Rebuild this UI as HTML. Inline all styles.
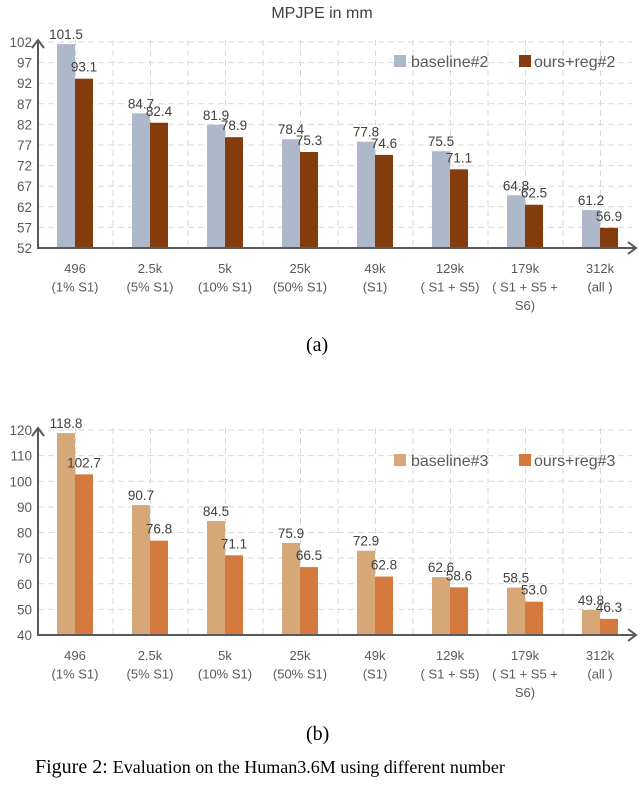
<!DOCTYPE html>
<html><head><meta charset="utf-8"><style>
body{margin:0;background:#fff;width:640px;height:769px;overflow:hidden;position:relative}
svg text{font-family:"Liberation Sans",sans-serif}
.cap{position:absolute;font-family:"Liberation Serif",serif;color:#000}
</style></head><body>
<svg id="c1" width="640" height="330" style="position:absolute;left:0;top:0"></svg>
<svg id="c2" width="640" height="400" style="position:absolute;left:0;top:400"></svg>
<div class="cap" style="left:306px;top:334px;font-size:20px">(a)</div>
<div class="cap" style="left:306px;top:723px;font-size:20px">(b)</div>
<div class="cap" style="left:35px;top:756px;font-size:20px;white-space:nowrap">Figure 2: <span style="font-size:18px">Evaluation on the Human3.6M using different number</span></div>
<script>
const categories=["496","2.5k","5k","25k","49k","129k","179k","312k"];
const subLabels=[["(1% S1)"],["(5% S1)"],["(10% S1)"],["(50% S1)"],["(S1)"],["( S1 + S5)"],["( S1 + S5 +","S6)"],["(all )"]];
const baselineA=[101.5,84.7,81.9,78.4,77.8,75.5,64.8,61.2];
const oursA=[93.1,82.4,78.9,75.3,74.6,71.1,62.5,56.9];
const ticksA=[52,57,62,67,72,77,82,87,92,97,102];
const baselineB=[118.8,90.7,84.5,75.9,72.9,62.6,58.5,49.8];
const oursB=[102.7,76.8,71.1,66.5,62.8,58.6,53.0,46.3];
const ticksB=[40,50,60,70,80,90,100,110,120];
const NS="http://www.w3.org/2000/svg";
function mk(p,t,a){const e=document.createElementNS(NS,t);for(const k in a)e.setAttribute(k,a[k]);p.appendChild(e);return e;}
function draw(svg,cfg){
  const x0=38,x1=632,yTop=cfg.yTop,yBot=cfg.yBot;
  const y=v=>yBot-(v-cfg.min)/(cfg.max-cfg.min)*(yBot-yTop);
  const gx=i=>57+i*75;
  // grid
  for(let gxv=x0+37.5;gxv<=632;gxv+=37.5){const l=mk(svg,'line',{x1:gxv,x2:gxv,y1:yTop-2,y2:yBot,stroke:'#d9d9d9','stroke-dasharray':'6,4'});
  }
  cfg.ticks.forEach(t=>{const yy=y(t);
    if(t!==cfg.min){const l=mk(svg,'line',{x1:x0,x2:632,y1:yy,y2:yy,stroke:'#d9d9d9','stroke-dasharray':'6,4'});
    }
    const tx=mk(svg,'text',{x:x0-6,y:yy+5,'text-anchor':'end','font-size':13.5,fill:'#595959'});tx.textContent=t;
    });
  categories.forEach((c,i)=>{
    const bx=gx(i),hb=y(cfg.base[i]),ho=y(cfg.ours[i]);
    const b=mk(svg,'rect',{x:bx,y:hb,width:18,height:yBot-hb,fill:cfg.c1});
    
    const o=mk(svg,'rect',{x:bx+18,y:ho,width:18,height:yBot-ho,fill:cfg.c2});
    
    const lb=mk(svg,'text',{x:bx+9,y:hb-5,'text-anchor':'middle','font-size':13.5,fill:'#404040'});lb.textContent=cfg.base[i].toFixed(1);
    
    const lo=mk(svg,'text',{x:bx+27,y:ho-7,'text-anchor':'middle','font-size':13.5,fill:'#404040'});lo.textContent=cfg.ours[i].toFixed(1);
    
    const lines=[c].concat(subLabels[i]);
    lines.forEach((s,k)=>{const t=mk(svg,'text',{x:bx+18,y:yBot+25+k*18.5,'text-anchor':'middle','font-size':13,fill:'#595959'});t.textContent=s;
      });
  });
  const ax=mk(svg,'path',{d:`M${x0} ${yTop-2} L${x0} ${yBot} L636 ${yBot} M${x0-6} ${yTop+6} L${x0} ${yTop-2} L${x0+6} ${yTop+6} M628 ${yBot-6} L636 ${yBot} L628 ${yBot+6}`,stroke:'#595959','stroke-width':2,fill:'none'});
  
  const ly=cfg.legY;
  const s1=mk(svg,'rect',{x:394,y:ly-6,width:12,height:12,fill:cfg.c1});
  
  const t1=mk(svg,'text',{x:411,y:ly+6,'font-size':16,fill:'#595959'});t1.textContent=cfg.n1;
  
  const s2=mk(svg,'rect',{x:519,y:ly-6,width:12,height:12,fill:cfg.c2});
  
  const t2=mk(svg,'text',{x:534,y:ly+6,'font-size':16,fill:'#595959'});t2.textContent=cfg.n2;
  
}
const s1=document.getElementById('c1');
const ti=mk(s1,'text',{x:322,y:18,'text-anchor':'middle','font-size':16,fill:'#404040'});ti.textContent='MPJPE in mm';

draw(s1,{yTop:42,yBot:248,min:52,max:102,ticks:ticksA,base:baselineA,ours:oursA,c1:'#adb9ca',c2:'#843c0c',n1:'baseline#2',n2:'ours+reg#2',legY:61});
draw(document.getElementById('c2'),{yTop:30,yBot:235,min:40,max:120,ticks:ticksB,base:baselineB,ours:oursB,c1:'#d6a878',c2:'#d57a3e',n1:'baseline#3',n2:'ours+reg#3',legY:60});
</script>
</body></html>
